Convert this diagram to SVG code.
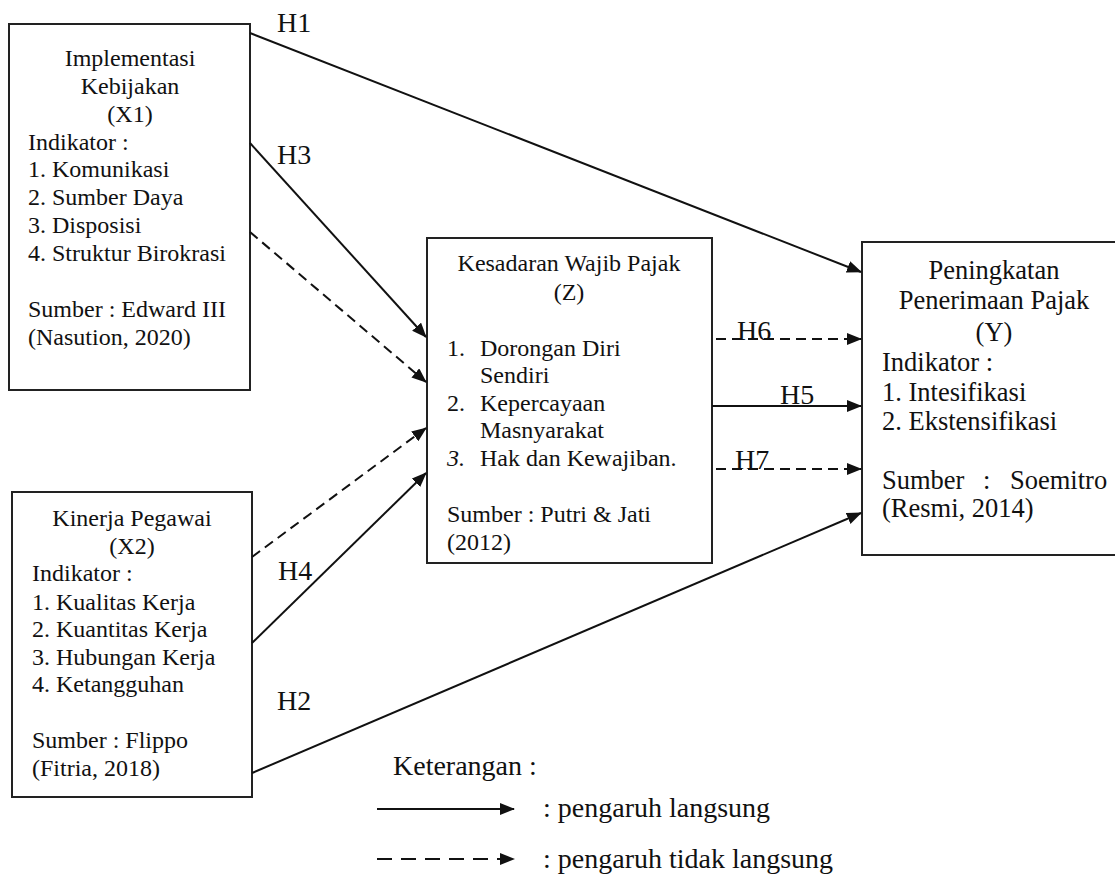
<svg xmlns="http://www.w3.org/2000/svg" width="1115" height="874" viewBox="0 0 1115 874">
<style>
.box{fill:#fff;stroke:#222;stroke-width:2}
.t{font-family:"Liberation Serif","Times New Roman",serif;font-size:24px;fill:#111}
.ty{font-family:"Liberation Serif","Times New Roman",serif;font-size:26.5px;fill:#111}
.c{text-anchor:middle}
.lbl{font-family:"Liberation Serif","Times New Roman",serif;font-size:28px;fill:#111}
.ln{fill:none;stroke:#111;stroke-width:2}
.ds{stroke-dasharray:10 6}
.dl{stroke-dasharray:15 9}
</style>
<defs>
<marker id="ah" markerUnits="userSpaceOnUse" markerWidth="15" markerHeight="13" refX="14" refY="6" orient="auto">
<path d="M0,0 L15,6 L0,12 z" fill="#111"/>
</marker>
</defs>
<g id="X1">
<rect class="box" x="9" y="24" width="241" height="366"/>
<text class="t c" x="130" y="66">Implementasi</text>
<text class="t c" x="130" y="94">Kebijakan</text>
<text class="t c" x="130" y="122">(X1)</text>
<text class="t" x="28" y="150">Indikator :</text>
<text class="t" x="28" y="177">1. Komunikasi</text>
<text class="t" x="28" y="205">2. Sumber Daya</text>
<text class="t" x="28" y="233">3. Disposisi</text>
<text class="t" x="28" y="261">4. Struktur Birokrasi</text>
<text class="t" x="28" y="317">Sumber : Edward III</text>
<text class="t" x="28" y="345">(Nasution, 2020)</text>
</g>
<g id="X2">
<rect class="box" x="12" y="492" width="240" height="305"/>
<text class="t c" x="132" y="526">Kinerja Pegawai</text>
<text class="t c" x="132" y="554">(X2)</text>
<text class="t" x="32" y="581">Indikator :</text>
<text class="t" x="32" y="610">1. Kualitas Kerja</text>
<text class="t" x="32" y="637">2. Kuantitas Kerja</text>
<text class="t" x="32" y="665">3. Hubungan Kerja</text>
<text class="t" x="32" y="692">4. Ketangguhan</text>
<text class="t" x="32" y="748">Sumber : Flippo</text>
<text class="t" x="32" y="776">(Fitria, 2018)</text>
</g>
<g id="Z">
<rect class="box" x="427" y="238" width="285" height="325"/>
<text class="t c" x="569" y="271">Kesadaran Wajib Pajak</text>
<text class="t c" x="569" y="300">(Z)</text>
<text class="t" x="447" y="356">1.</text>
<text class="t" x="480" y="356">Dorongan Diri</text>
<text class="t" x="480" y="383">Sendiri</text>
<text class="t" x="447" y="411">2.</text>
<text class="t" x="480" y="411">Kepercayaan</text>
<text class="t" x="480" y="438">Masnyarakat</text>
<text class="t" x="447" y="466" font-style="italic">3.</text>
<text class="t" x="480" y="466">Hak dan Kewajiban.</text>
<text class="t" x="447" y="522">Sumber : Putri &amp; Jati</text>
<text class="t" x="447" y="550">(2012)</text>
</g>
<g id="Y">
<rect class="box" x="862" y="242" width="264" height="313"/>
<text class="ty c" x="994" y="279">Peningkatan</text>
<text class="ty c" x="994" y="309">Penerimaan Pajak</text>
<text class="ty c" x="994" y="341">(Y)</text>
<text class="ty" x="882" y="371">Indikator :</text>
<text class="ty" x="882" y="401">1. Intesifikasi</text>
<text class="ty" x="882" y="430">2. Ekstensifikasi</text>
<text class="ty" x="882" y="489">Sumber</text>
<text class="ty" x="983" y="489">:</text>
<text class="ty" x="1010" y="489">Soemitro</text>
<text class="ty" x="882" y="517">(Resmi, 2014)</text>
</g>
<g id="connectors">
<line class="ln" x1="250" y1="33" x2="861" y2="272" marker-end="url(#ah)"/>
<line class="ln" x1="252" y1="773" x2="861" y2="513" marker-end="url(#ah)"/>
<line class="ln" x1="250" y1="143" x2="426" y2="337" marker-end="url(#ah)"/>
<line class="ln ds" x1="250" y1="232" x2="426" y2="382" marker-end="url(#ah)"/>
<line class="ln ds" x1="252" y1="557" x2="426" y2="428" marker-end="url(#ah)"/>
<line class="ln" x1="252" y1="643" x2="426" y2="473" marker-end="url(#ah)"/>
<line class="ln ds" x1="716" y1="339" x2="861" y2="339" marker-end="url(#ah)"/>
<line class="ln" x1="712" y1="406" x2="861" y2="406" marker-end="url(#ah)"/>
<line class="ln ds" x1="716" y1="469" x2="861" y2="469" marker-end="url(#ah)"/>
<text class="lbl" x="277" y="32">H1</text>
<text class="lbl" x="277" y="164">H3</text>
<text class="lbl" x="278" y="580">H4</text>
<text class="lbl" x="277" y="710">H2</text>
<text class="lbl" x="737" y="340">H6</text>
<text class="lbl" x="780" y="404">H5</text>
<text class="lbl" x="735" y="469">H7</text>
</g>
<g id="legend">
<text class="lbl" x="393" y="775">Keterangan :</text>
<line class="ln" x1="377" y1="809" x2="514" y2="809" marker-end="url(#ah)"/>
<text class="lbl" x="543" y="817">: pengaruh langsung</text>
<line class="ln dl" x1="377" y1="859" x2="514" y2="859" marker-end="url(#ah)"/>
<text class="lbl" x="543" y="868">: pengaruh tidak langsung</text>
</g>
</svg>
